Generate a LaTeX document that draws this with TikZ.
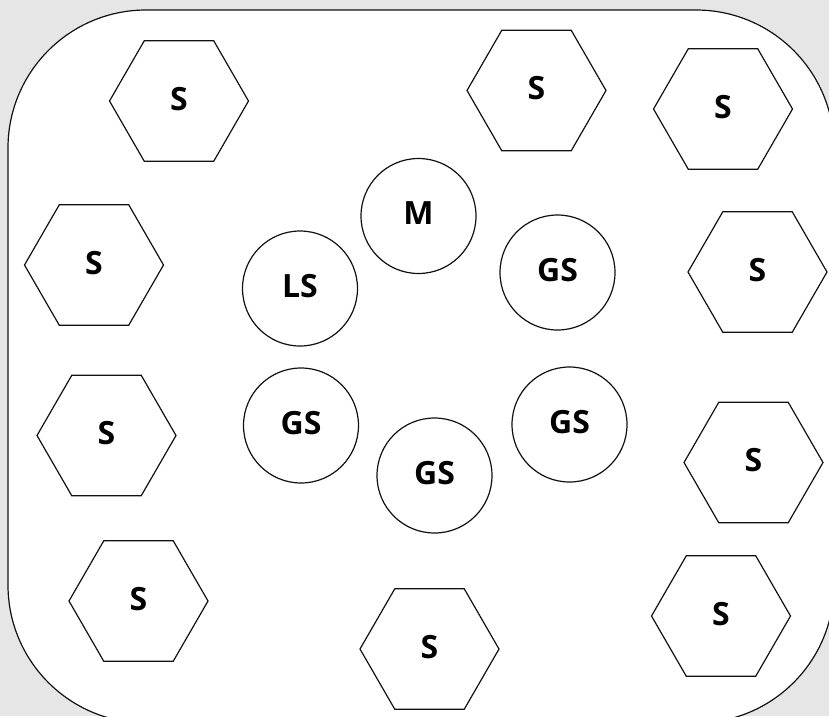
\documentclass[tikz,border=0pt]{standalone}
\usepackage{fontspec}
\setmainfont{Open Sans}
\usetikzlibrary{shapes.geometric}
\definecolor{PlanGrey}{HTML}{E6E6E6}
\definecolor{PlanInk}{HTML}{111111}

\begin{document}
\begin{tikzpicture}[
      x=1pt,y=-1pt,
      board/.style={draw=PlanInk,fill=white,line width=1.2pt,rounded corners=138pt},
      label/.style={font=\fontsize{32}{36}\selectfont\bfseries,text=black,
        inner sep=0pt,outer sep=0pt,text depth=5pt},
      station/.style={label,draw=PlanInk,fill=white,line width=1.2pt,
        regular polygon,regular polygon sides=6,minimum size=139pt},
      unit/.style={label,draw=PlanInk,fill=white,line width=1.2pt,
        circle,minimum size=115pt}
    ]
    \useasboundingbox (0,0) rectangle (829,716);
    \fill[PlanGrey] (0,0) rectangle (829,716);
    \begin{scope}
      \clip (0,0) rectangle (829,716);
      \draw[board] (8,10) rectangle (834,723);
    \end{scope}

    % outer ring of S stations
    \node[station] (s1) at (179,101) {S};
    \node[station] (s2) at (536.5,90.5) {S};
    \node[station] (s3) at (723,109) {S};
    \node[station] (s4) at (94,265) {S};
    \node[station] (s5) at (757.5,272) {S};
    \node[station] (s6) at (106.5,435.5) {S};
    \node[station] (s7) at (753.5,462.5) {S};
    \node[station] (s8) at (138.5,601) {S};
    \node[station] (s9) at (429.5,649) {S};
    \node[station] (s10) at (721,616) {S};

    % inner group
    \node[unit] (m) at (418.5,216) {M};
    \node[unit] (ls) at (300,288.5) {LS};
    \node[unit] (gs1) at (557.5,272.5) {GS};
    \node[unit] (gs2) at (301,425.5) {GS};
    \node[unit] (gs3) at (434.5,475.5) {GS};
    \node[unit] (gs4) at (569.5,424.5) {GS};
  \end{tikzpicture}
\end{document}
